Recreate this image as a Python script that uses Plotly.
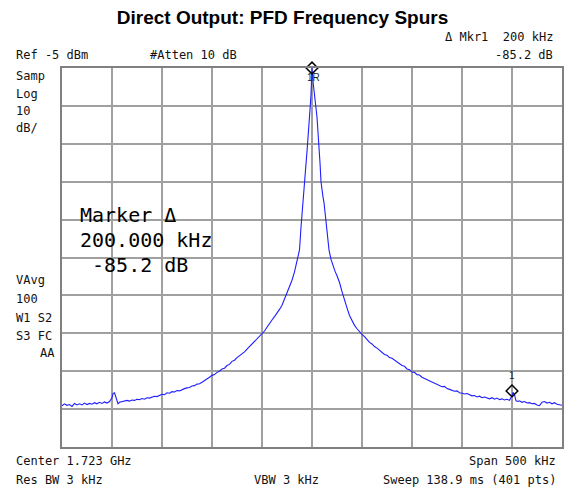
import plotly.graph_objects as go

offset_khz = [
    -250, -247.5, -245, -242.5, -240, -237.5, -235, -232.5, -230, -227.5,
    -225, -222.5, -220, -217.5, -215, -212.5, -210, -207.5, -205, -202.5,
    -200, -199, -197.5, -196, -194, -192.5, -190, -187.5, -185, -182.5,
    -180, -177.5, -175, -172.5, -170, -167.5, -165, -162.5, -160, -157.5,
    -155, -152.5, -150, -147.5, -145, -142.5, -140, -137.5, -135, -132.5,
    -130, -127.5, -125, -122.5, -120, -117.5, -115, -112.5, -110, -107.5,
    -105, -102.5, -100, -97.5, -95, -92.5, -90, -87.5, -85, -82.5,
    -80, -77.5, -75, -72.5, -70, -67.5, -65, -62.5, -60, -57.5,
    -55, -52.5, -50, -47.5, -45, -42.5, -40, -37.5, -35, -32.5,
    -30, -27.5, -25, -22.5, -20, -17.5, -15, -12.5, -11, -9.5,
    -8, -6.5, -5, -4, -3, -2, -1, 0,
    1, 2, 3, 4, 5, 6, 7, 8, 9, 10, 11, 12, 13.5, 15, 17, 19, 21, 23,
    25, 27.5, 30, 32.5, 35, 37.5, 40, 42.5, 45, 47.5,
    50, 52.5, 55, 57.5, 60, 62.5, 65, 67.5, 70, 72.5,
    75, 77.5, 80, 82.5, 85, 87.5, 90, 92.5, 95, 97.5,
    100, 102.5, 105, 107.5, 110, 112.5, 115, 117.5, 120, 122.5,
    125, 127.5, 130, 132.5, 135, 137.5, 140, 142.5, 145, 147.5,
    150, 152.5, 155, 157.5, 160, 162.5, 165, 167.5, 170, 172.5,
    175, 177.5, 180, 182.5, 185, 187.5, 190, 192.5, 195, 197.5,
    200, 201, 202.5, 204, 206, 207.5, 210, 212.5, 215, 217.5,
    220, 222.5, 225, 227.5, 230, 232.5, 235, 237.5, 240, 242.5,
    245, 247.5, 250,
]
level_dbm = [
    -94.1, -93.6, -94.0, -93.8, -94.3, -93.5, -93.9, -93.6, -93.9, -93.4,
    -93.8, -93.5, -93.7, -93.3, -93.6, -93.2, -93.5, -93.1, -93.4, -93.0,
    -92.0, -90.9, -90.7, -92.2, -93.6, -93.2, -93.0, -92.9, -92.7, -92.9,
    -92.6, -92.7, -92.4, -92.5, -92.2, -92.4, -92.0, -92.1, -91.8, -91.6,
    -91.7, -91.3, -91.1, -91.2, -90.7, -90.8, -90.4, -90.5, -90.1, -90.2,
    -89.8, -89.6, -89.4, -89.3, -88.9, -88.8, -88.4, -88.3, -87.9, -87.5,
    -87.2, -86.6, -86.1, -85.9, -85.3, -85.0, -84.4, -84.2, -83.5, -83.2,
    -82.4, -82.1, -81.4, -80.9, -80.5, -79.9, -79.2, -78.5, -77.9, -77.2,
    -76.5, -75.8, -75.1, -74.4, -73.4, -72.6, -71.5, -70.6, -69.8, -68.7,
    -67.6, -66.0, -64.6, -62.8, -61.0, -58.8, -55.8, -53.0, -47.0, -41.0,
    -36.0, -32.0, -27.0, -24.0, -20.0, -16.0, -12.0, -5.0,
    -8.5, -11.0, -13.0, -15.0, -18.0, -22.0, -25.0, -30.0, -35.0, -37.5, -39.0, -40.5, -44.0, -48.0, -53.0, -55.5, -57.3, -58.6,
    -59.8, -61.6, -64.0, -66.4, -68.3, -70.3, -71.8, -72.9, -73.8, -74.7,
    -75.3, -75.9, -76.8, -77.4, -77.8, -78.5, -78.9, -79.5, -79.9, -80.6,
    -80.8, -81.4, -81.6, -82.1, -82.6, -83.0, -83.5, -83.7, -84.4, -84.6,
    -85.2, -85.3, -85.9, -86.0, -86.6, -86.9, -87.2, -87.4, -87.9, -88.0,
    -88.5, -88.6, -89.1, -89.0, -89.6, -89.8, -90.0, -90.3, -90.2, -90.7,
    -90.8, -91.0, -90.9, -91.3, -91.5, -91.4, -91.8, -91.6, -92.0, -91.8,
    -92.1, -92.3, -92.0, -92.4, -92.1, -92.5, -92.3, -92.6, -92.4, -92.7,
    -91.5, -90.6, -91.2, -92.8, -93.0, -92.8, -93.2, -93.0, -93.4, -93.3,
    -93.6, -93.5, -93.9, -94.1, -93.2, -93.0, -93.4, -93.2, -93.6, -93.3,
    -93.7, -93.9, -94.0,
]

# Markers: reference marker (1R) at peak, delta marker 1 at +200 kHz, -85.2 dB
ref_level = -5.0
mkr_ref_x = 0
mkr_delta_x = 200
mkr_delta_db = -85.2

span_khz = 500
db_per_div = 10

fig = go.Figure()
fig.add_trace(go.Scatter(
    x=offset_khz, y=level_dbm, mode="lines",
    line=dict(color="rgb(30,30,255)", width=1.1),
    hoverinfo="skip", showlegend=False,
))
fig.add_trace(go.Scatter(
    x=[mkr_ref_x, mkr_delta_x],
    y=[ref_level, ref_level + mkr_delta_db],
    mode="markers", cliponaxis=False,
    marker=dict(symbol="diamond-open", size=9, color="black", line=dict(width=1.5, color="black")),
    showlegend=False, hoverinfo="skip",
))

mono = "DejaVu Sans Mono"
annots = []
def txt(x, y, s, size=12, anchor="left", fam=mono, xref="paper", yref="paper", color="#111"):
    annots.append(dict(x=x, y=y, xref=xref, yref=yref, text=s, showarrow=False,
                       xanchor=anchor, yanchor="middle", font=dict(family=fam, size=size, color=color)))

W, H = 565, 493
L, R, T, B = 62, 1, 68, 46
pw, ph = W - L - R, H - T - B
def px(x):  # pixel x -> paper
    return (x - L) / pw
def py(y):  # pixel y -> paper
    return 1 - (y - T) / ph

txt(px(557), py(37), "\u0394 Mkr1  200 kHz", anchor="right")
txt(px(557), py(55), "-85.2 dB", anchor="right")
txt(px(14), py(55), "Ref -5 dBm")
txt(px(148), py(55), "#Atten 10 dB")
for yy, s in [(76, "Samp"), (94, "Log"), (111, "10"), (128, "dB/"),
              (280, "VAvg"), (299, "100"), (318, "W1 S2"), (336, "S3 FC")]:
    txt(px(14), py(yy), s)
txt(px(57), py(353), "AA", anchor="right")
txt(px(78), py(215), "Marker \u0394", size=20, color="black")
txt(px(78), py(240), "200.000 kHz", size=20, color="black")
txt(px(78), py(265), " -85.2 dB", size=20, color="black")
txt(px(14), py(461), "Center 1.723 GHz")
txt(px(560), py(461), "Span 500 kHz", anchor="right")
txt(px(14), py(480), "Res BW 3 kHz")
txt(px(253), py(480), "VBW 3 kHz")
txt(px(560), py(480), "Sweep 138.9 ms (401 pts)", anchor="right")
annots.append(dict(x=mkr_ref_x, y=ref_level, xref="x", yref="y", text="1R", showarrow=False,
                   yshift=-9, xshift=1, font=dict(family="Liberation Sans", size=10, color="#222")))
annots.append(dict(x=mkr_delta_x, y=ref_level + mkr_delta_db, xref="x", yref="y", text="1", showarrow=False,
                   yshift=15, font=dict(family="Liberation Sans", size=10, color="#222")))

fig.update_layout(
    width=W, height=H,
    margin=dict(l=L, r=R, t=T, b=B, pad=0),
    paper_bgcolor="white", plot_bgcolor="white",
    title=dict(text="<b>Direct Output: PFD Frequency Spurs</b>", x=0.5, xanchor="center",
               y=1 - 17 / H, yanchor="middle",
               font=dict(family="Liberation Sans", size=19, color="black")),
    annotations=annots,
    xaxis=dict(range=[-span_khz / 2, span_khz / 2], dtick=span_khz / 10, tick0=0,
               showgrid=True, gridcolor="#a0a0a0", gridwidth=1.5, zeroline=False,
               showticklabels=False, ticks="", showline=True, linecolor="#808080",
               linewidth=2, mirror=True, fixedrange=True),
    yaxis=dict(range=[ref_level - 10 * db_per_div, ref_level], dtick=db_per_div, tick0=ref_level,
               showgrid=True, gridcolor="#a0a0a0", gridwidth=1.5, zeroline=False,
               showticklabels=False, ticks="", showline=True, linecolor="#808080",
               linewidth=2, mirror=True, fixedrange=True),
)
fig.write_html("out.html", config={"displayModeBar": False},
               post_script="document.body.style.margin='0';document.body.style.padding='0';")
